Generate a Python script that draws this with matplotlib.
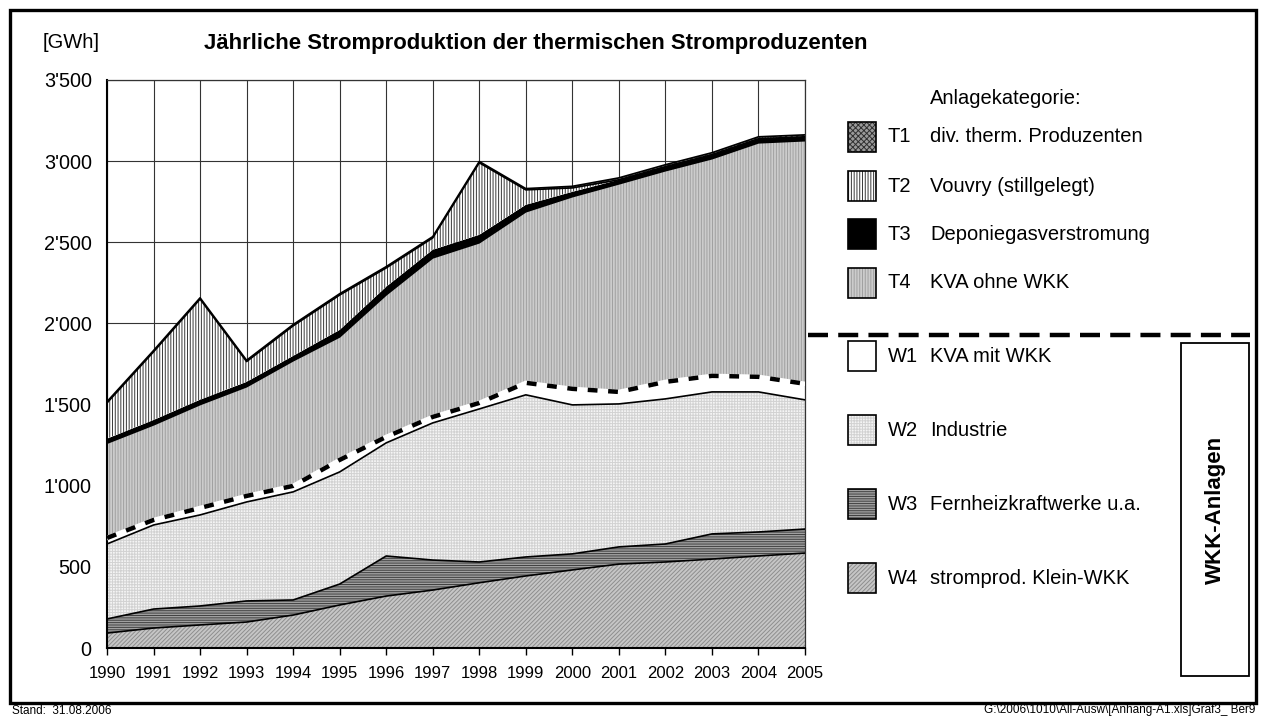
import numpy as np
import matplotlib.pyplot as plt
from matplotlib.patches import Rectangle
from matplotlib.lines import Line2D

plt.rcParams['font.family'] = ['Liberation Sans', 'DejaVu Sans']
plt.rcParams['hatch.linewidth'] = 0.7

years = np.arange(1990, 2006)

# yearly production per category [GWh], bottom to top of the stack
w4 = [92, 123, 142, 160, 203, 265, 320, 357, 402, 444, 481, 517, 530, 548, 567, 585]
w3 = [87, 117, 117, 130, 93, 129, 247, 185, 128, 117, 99, 106, 111, 155, 148, 148]
w2 = [462, 518, 561, 610, 666, 691, 697, 845, 943, 999, 918, 881, 894, 875, 863, 796]
w1 = [37, 31, 43, 37, 37, 74, 37, 37, 37, 74, 99, 74, 105, 99, 93, 99]
t4 = [584, 586, 637, 673, 771, 758, 875, 980, 987, 1054, 1184, 1282, 1301, 1338, 1442, 1498]
t3 = [28, 30, 30, 30, 30, 43, 50, 50, 49, 43, 30, 25, 25, 25, 25, 24]
t2 = [220, 420, 620, 125, 185, 215, 116, 73, 444, 92, 24, 0, 0, 0, 0, 0]
t1 = [8, 8, 8, 8, 8, 8, 8, 8, 8, 8, 10, 12, 12, 12, 12, 12]

codes = ['W4', 'W3', 'W2', 'W1', 'T4', 'T3', 'T2', 'T1']
names = ['stromprod. Klein-WKK', 'Fernheizkraftwerke u.a.', 'Industrie', 'KVA mit WKK',
         'KVA ohne WKK', 'Deponiegasverstromung', 'Vouvry (stillgelegt)', 'div. therm. Produzenten']
series = [w4, w3, w2, w1, t4, t3, t2, t1]

# face colour, hatch, hatch colour
styles = {
    'W4': ('#c6c6c6', '////////', '#8e8e8e'),
    'W3': ('#a0a0a0', '-------', '#404040'),
    'W2': ('#f4f4f4', '++++++', '#d2d2d2'),
    'W1': ('white', '', 'white'),
    'T4': ('#cccccc', '||||||', '#a0a0a0'),
    'T3': ('black', '', 'black'),
    'T2': ('white', '||||||', '#383838'),
    'T1': ('#9a9a9a', 'xxxxxx', '#303030'),
}

fig = plt.figure(figsize=(12.66, 7.17), dpi=100)
W, H = 1266, 717
def fx(px): return px / W
def fy(py): return 1 - py / H

ax = fig.add_axes([fx(107), fy(648), fx(805) - fx(107), fy(80) - fy(648)])

cum = np.zeros(len(years))
for code, vals in zip(codes, series):
    top = cum + np.array(vals)
    fc, hatch, hc = styles[code]
    ax.fill_between(years, cum, top, facecolor=fc, edgecolor='none', lw=0, zorder=2)
    if hatch:
        ax.fill_between(years, cum, top, facecolor='none', edgecolor=hc, lw=0, hatch=hatch, zorder=2.1)
    if code != 'T3':
        ax.plot(years, top, color='black', lw=1.2, zorder=3)
    if code == 'W1':
        ax.plot(years, top, color='white', lw=3.2, zorder=3.2)
        ax.plot(years, top, color='black', lw=3.2, dashes=(2.2, 2.4), zorder=3.3)
    cum = top

ax.set_xlim(1990, 2005)
ax.set_ylim(0, 3500)
ax.set_xticks(years)
ax.set_yticks(np.arange(0, 3501, 500))
ax.set_yticklabels([f"{v:,}".replace(',', "'") for v in range(0, 3501, 500)], fontsize=14.3)
ax.set_xticklabels([str(y) for y in years], fontsize=12)
ax.tick_params(axis='y', length=0, pad=11)
ax.tick_params(axis='x', length=5, direction='out', width=1, pad=8)
ax.grid(True, color='#333333', lw=0.8, zorder=1)
for side in ['left', 'bottom']:
    ax.spines[side].set_linewidth(1.5)
for side in ['top', 'right']:
    ax.spines[side].set_linewidth(0.9)
    ax.spines[side].set_color('#333333')

# titles
fig.text(fx(43), fy(43), '[GWh]', fontsize=14.5, va='center', ha='left')
fig.text(fx(204), fy(43), 'Jährliche Stromproduktion der thermischen Stromproduzenten',
         fontsize=15.9, fontweight='bold', va='center', ha='left')

# custom legend
fig.text(fx(930), fy(99), 'Anlagekategorie:', fontsize=14.5, va='center', ha='left')
legend_y = {'T1': 137, 'T2': 186, 'T3': 234, 'T4': 283, 'W1': 356, 'W2': 430, 'W3': 504, 'W4': 578}
for code, name in zip(codes, names):
    cy = legend_y[code]
    fc, hatch, hc = styles[code]
    x0, y0 = fx(848), fy(cy + 15)
    w, h = fx(876) - fx(848), fy(cy - 15) - fy(cy + 15)
    fig.patches.append(Rectangle((x0, y0), w, h, transform=fig.transFigure,
                                 facecolor=fc, edgecolor='none'))
    if hatch:
        fig.patches.append(Rectangle((x0, y0), w, h, transform=fig.transFigure,
                                     facecolor='none', edgecolor=hc, lw=0, hatch=hatch))
    fig.patches.append(Rectangle((x0, y0), w, h, transform=fig.transFigure,
                                 facecolor='none', edgecolor='black', lw=1.2))
    fig.text(fx(888), fy(cy), code, fontsize=14.5, va='center', ha='left')
    fig.text(fx(930), fy(cy), name, fontsize=14.5, va='center', ha='left')

fig.lines.append(Line2D([fx(808), fx(1250)], [fy(335), fy(335)], transform=fig.transFigure,
                        color='black', lw=3.2, dashes=(4.5, 2.3)))

fig.patches.append(Rectangle((fx(1181), fy(676)), fx(1249) - fx(1181), fy(343) - fy(676),
                             transform=fig.transFigure, facecolor='none', edgecolor='black', lw=1.3))
fig.text(fx(1215), fy(510), 'WKK-Anlagen', fontsize=16, fontweight='bold', rotation=90,
         va='center', ha='center')

# outer frame
fig.patches.append(Rectangle((fx(10), fy(703)), fx(1256) - fx(10), fy(10) - fy(703),
                             transform=fig.transFigure, facecolor='none', edgecolor='black', lw=2.4))
fig.text(fx(12), fy(716.5), 'Stand:  31.08.2006', fontsize=8.5, va='bottom', ha='left')
fig.text(fx(1255), fy(716.5), 'G:\\2006\\1010\\All-Ausw\\[Anhang-A1.xls]Graf3_ Ber9', fontsize=8.5,
         va='bottom', ha='right')

fig.savefig('out.png', dpi=100)
